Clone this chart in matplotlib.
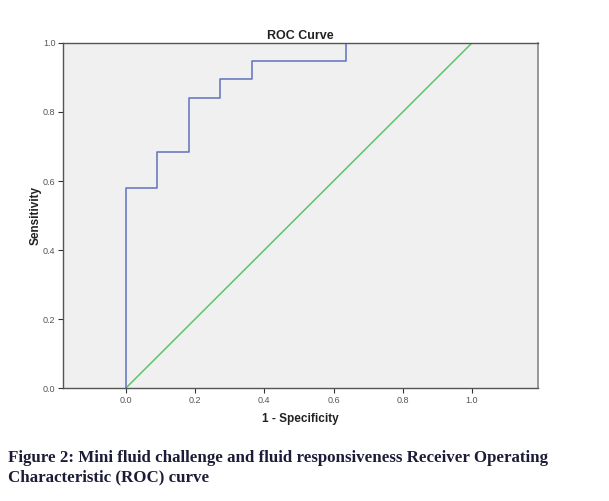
import numpy as np
import matplotlib
matplotlib.use('Agg')
import matplotlib.pyplot as plt

# ROC curve points (1 - specificity, sensitivity)
fpr = [0.0, 0.0, 0.091, 0.091, 0.182, 0.182, 0.273, 0.273, 0.364, 0.364, 0.636, 0.636, 1.0]
tpr = [0.0, 0.579, 0.579, 0.684, 0.684, 0.842, 0.842, 0.895, 0.895, 0.947, 0.947, 1.0, 1.0]
ref_x = [0.0, 1.0]
ref_y = [0.0, 1.0]
ticks = [0.0, 0.2, 0.4, 0.6, 0.8, 1.0]

plt.rcParams['font.family'] = ['Liberation Sans', 'DejaVu Sans']

fig = plt.figure(figsize=(6.09, 5.01), dpi=100)
ax = fig.add_axes([0.1034, 0.2255, 0.78, 0.6887])
ax.set_facecolor('#f0f0f0')

ax.plot(ref_x, ref_y, color='#5cc46a', lw=1.1)
ax.plot(fpr, tpr, color='#6a7cc2', lw=1.2)

ax.set_xlim(-0.182, 1.191)
ax.set_ylim(0.0, 1.0)
ax.set_xticks(ticks)
ax.set_yticks(ticks)
ax.set_xticklabels(['%.1f' % t for t in ticks])
ax.set_yticklabels(['%.1f' % t for t in ticks])
ax.tick_params(labelsize=6.5, labelcolor='#555555', color='#333333', length=3.5, width=0.8, pad=2)

for s in ['left', 'bottom', 'top']:
    ax.spines[s].set_color('#555555')
    ax.spines[s].set_linewidth(1.0)
ax.spines['right'].set_color('#888888')
ax.spines['right'].set_linewidth(1.2)

ax.set_xlabel('1 - Specificity', fontsize=8.5, fontweight='bold', labelpad=6, color='#222222')
ax.set_ylabel('Sensitivity', fontsize=8.5, fontweight='bold', labelpad=1, color='#222222')
ax.set_title('ROC Curve', fontsize=9, fontweight='bold', pad=3, color='#222222')

fig.text(0.013, 0.102, 'Figure 2: Mini fluid challenge and fluid responsiveness Receiver Operating\nCharacteristic (ROC) curve',
         family='Liberation Serif', fontweight='bold', fontsize=12.2, color='#1c1c38',
         va='top', ha='left', linespacing=1.3)

fig.savefig('out.png', dpi=100)
